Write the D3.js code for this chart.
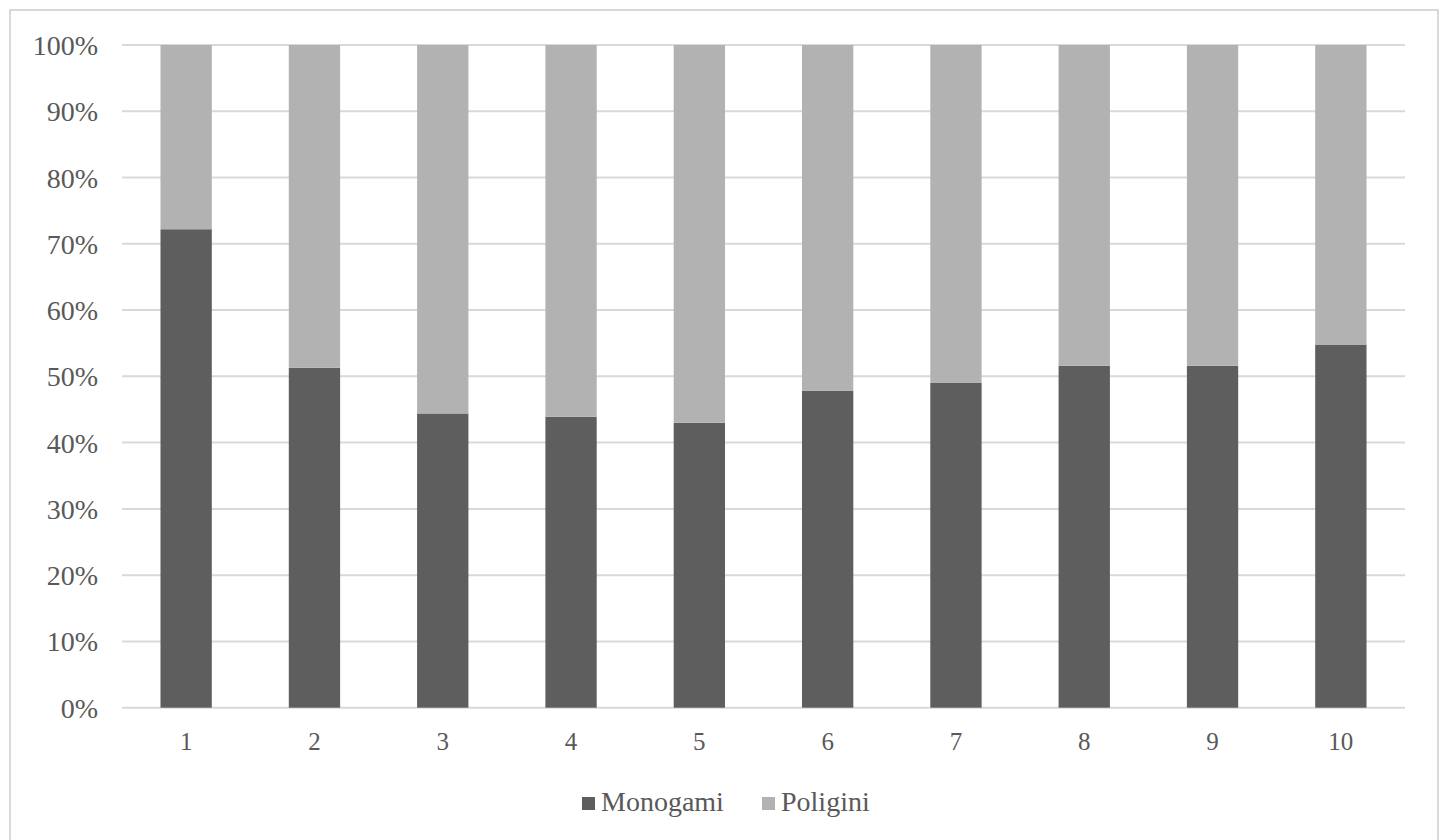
<!DOCTYPE html>
<html>
<head>
<meta charset="utf-8">
<script src="https://cdn.jsdelivr.net/npm/d3@7"></script>
<style>
  html, body { margin: 0; padding: 0; background: #fff; }
  svg { display: block; }
  text { font-family: "Liberation Serif", "Times New Roman", serif; fill: #595959; }
</style>
</head>
<body>
<svg id="chart" width="1444" height="840"></svg>
<script>
// Share of each group per category (percent)
const categories = ["1", "2", "3", "4", "5", "6", "7", "8", "9", "10"];
const monogami = [72.2, 51.3, 44.4, 43.9, 43.0, 47.8, 49.0, 51.6, 51.6, 54.8];
const poligini = monogami.map(v => 100 - v);
const seriesNames = ["Monogami", "Poligini"];
const seriesColors = ["#5e5e5e", "#b2b2b2"];
const yTicks = [0, 10, 20, 30, 40, 50, 60, 70, 80, 90, 100];

const FONT = "'Liberation Serif', 'Times New Roman', serif";
const svg = d3.select("#chart");

// Chart frame
svg.append("rect")
  .attr("x", 10).attr("y", 10)
  .attr("width", 1428).attr("height", 845)
  .attr("fill", "#fff")
  .attr("stroke", "#d9d9d9")
  .attr("stroke-width", 2);

const plot = { left: 122, right: 1405, top: 45, bottom: 707.7 };

const x = d3.scaleBand()
  .domain(categories)
  .range([plot.left, plot.right])
  .paddingInner(0.6)
  .paddingOuter(0.3);

const y = d3.scaleLinear()
  .domain([0, 100])
  .range([plot.bottom, plot.top]);

// Horizontal gridlines
svg.append("g")
  .selectAll("line")
  .data(yTicks)
  .join("line")
  .attr("x1", plot.left).attr("x2", plot.right)
  .attr("y1", d => y(d)).attr("y2", d => y(d))
  .attr("stroke", "#d9d9d9")
  .attr("stroke-width", 2);

// Y axis labels
const yAxis = d3.axisLeft(y).tickValues(yTicks).tickFormat(d => d + "%").tickSize(0).tickPadding(24);
svg.append("g")
  .attr("transform", `translate(${plot.left},0)`)
  .call(yAxis)
  .attr("font-family", FONT)
  .call(g => g.select(".domain").remove())
  .call(g => g.selectAll("text")
    .attr("font-size", 28)
    .attr("fill", "#595959")
    .attr("dy", "0.34em"));

// Stacked columns
const rows = categories.map((c, i) => ({ cat: c, Monogami: monogami[i], Poligini: poligini[i] }));
const stacked = d3.stack().keys(seriesNames)(rows);

svg.append("g")
  .selectAll("g")
  .data(stacked)
  .join("g")
  .attr("fill", (d, i) => seriesColors[i])
  .selectAll("rect")
  .data(d => d)
  .join("rect")
  .attr("x", d => x(d.data.cat))
  .attr("width", x.bandwidth())
  .attr("y", d => y(d[1]))
  .attr("height", d => y(d[0]) - y(d[1]));

// X axis labels
const xAxis = d3.axisBottom(x).tickSize(0).tickPadding(25);
svg.append("g")
  .attr("transform", `translate(0,${plot.bottom})`)
  .call(xAxis)
  .attr("font-family", FONT)
  .call(g => g.select(".domain").remove())
  .call(g => g.selectAll("text")
    .attr("font-size", 25)
    .attr("fill", "#595959"));

// Legend
const legendItems = [
  { name: seriesNames[0], color: seriesColors[0], x: 582 },
  { name: seriesNames[1], color: seriesColors[1], x: 762 }
];
const legend = svg.append("g").attr("font-family", FONT);
legendItems.forEach(item => {
  legend.append("rect")
    .attr("x", item.x).attr("y", 797)
    .attr("width", 13).attr("height", 13)
    .attr("fill", item.color);
  legend.append("text")
    .attr("x", item.x + 19).attr("y", 811)
    .attr("font-size", 28)
    .text(item.name);
});
</script>
</body>
</html>
